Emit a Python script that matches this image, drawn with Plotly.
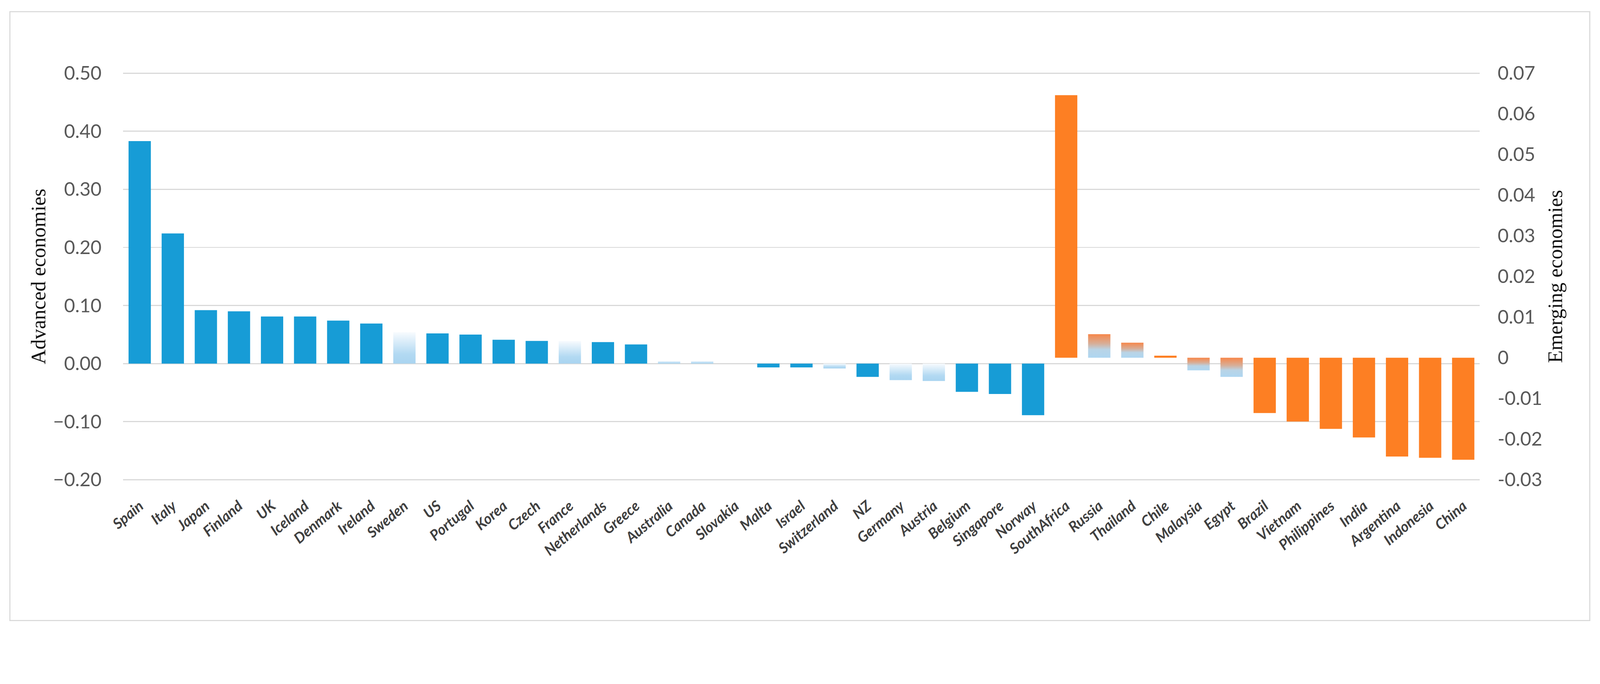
import plotly.graph_objects as go

# ---------------- data ----------------
adv_countries = ["Spain", "Italy", "Japan", "Finland", "UK", "Iceland", "Denmark", "Ireland",
                 "Sweden", "US", "Portugal", "Korea", "Czech", "France", "Netherlands", "Greece",
                 "Australia", "Canada", "Slovakia", "Malta", "Israel", "Switzerland", "NZ",
                 "Germany", "Austria", "Belgium", "Singapore", "Norway"]
adv_values = [0.383, 0.224, 0.092, 0.090, 0.081, 0.081, 0.074, 0.069,
              0.054, 0.052, 0.050, 0.041, 0.039, 0.039, 0.037, 0.033,
              0.0045, 0.0045, 0.0, -0.0067, -0.0067, -0.0084, -0.023,
              -0.0285, -0.030, -0.0487, -0.0524, -0.0889]
adv_faded = ["Sweden", "France", "Australia", "Canada", "Switzerland", "Germany", "Austria"]

em_countries = ["SouthAfrica", "Russia", "Thailand", "Chile", "Malaysia", "Egypt", "Brazil",
                "Vietnam", "Philippines", "India", "Argentina", "Indonesia", "China"]
em_values = [0.0646, 0.0058, 0.0037, 0.0005, -0.0031, -0.0047, -0.0136,
             -0.0157, -0.0175, -0.0196, -0.0243, -0.0246, -0.0251]
em_faded = ["Russia", "Thailand", "Malaysia", "Egypt"]

left_ticks = [-0.2, -0.1, 0.0, 0.1, 0.2, 0.3, 0.4, 0.5]
right_ticks = [-0.03, -0.02, -0.01, 0.0, 0.01, 0.02, 0.03, 0.04, 0.05, 0.06, 0.07]
right_ticktext = ["-0.03", "-0.02", "-0.01", "0", "0.01", "0.02", "0.03", "0.04", "0.05", "0.06", "0.07"]

# ---------------- style ----------------
FIG_W, FIG_H = 4378, 1750
BLUE = "#179CD6"
ORANGE = "#FD7F23"
BAR_W = 0.674
TICK_FONT = dict(family="Liberation Sans Narrow, Lato, sans-serif", size=52, color="#595959")
TITLE_FONT = dict(family="Liberation Serif, DejaVu Serif, serif", size=56, color="#111111")
blue_fade = [[0, "#A9D4F0"], [0.3, "#B2D9F2"], [1, "#F8FBFE"]]
orange_fade = [[0, "#AED6F1"], [0.35, "#B9D4E6"], [0.6, "#D7AE98"], [1, "#F7874A"]]
# small padding so the outermost gridlines are not dropped at the plot edges
PAD_L = 0.002
PAD_R = 0.0002857

categories = adv_countries + em_countries
idx = {c: i for i, c in enumerate(categories)}

fig = go.Figure()

# solid bars
adv_solid = [c for c in adv_countries if c not in adv_faded]
fig.add_trace(go.Bar(
    x=[idx[c] for c in adv_solid],
    y=[adv_values[adv_countries.index(c)] for c in adv_solid],
    width=BAR_W, marker=dict(color=BLUE, line=dict(width=0)),
    yaxis="y", showlegend=False, name="Advanced economies"))
em_solid = [c for c in em_countries if c not in em_faded]
fig.add_trace(go.Bar(
    x=[idx[c] for c in em_solid],
    y=[em_values[em_countries.index(c)] for c in em_solid],
    width=BAR_W, marker=dict(color=ORANGE, line=dict(width=0)),
    yaxis="y2", showlegend=False, name="Emerging economies"))

# faded (gradient) bars drawn as filled rectangles on the data axes
def gradient_bar(c, v, axis, scale):
    i = idx[c]
    fig.add_trace(go.Scatter(
        x=[i - BAR_W / 2, i + BAR_W / 2, i + BAR_W / 2, i - BAR_W / 2, i - BAR_W / 2],
        y=[0, 0, v, v, 0],
        mode="none", fill="toself",
        fillgradient=dict(type="vertical", colorscale=scale),
        yaxis=axis, showlegend=False, hoverinfo="skip"))

for c in adv_faded:
    gradient_bar(c, adv_values[adv_countries.index(c)], "y", blue_fade)
for c in em_faded:
    gradient_bar(c, em_values[em_countries.index(c)], "y2", orange_fade)

# outer frame
fig.add_shape(type="rect", xref="paper", yref="paper",
              x0=-0.0835, x1=1.0811, y0=-0.3417, y1=1.1476,
              line=dict(color="#D9D9D9", width=3), fillcolor="rgba(0,0,0,0)", layer="below")

fig.update_layout(
    width=FIG_W, height=FIG_H,
    margin=dict(l=337, r=329, t=197, b=435),
    paper_bgcolor="white", plot_bgcolor="white",
    barmode="overlay",
    xaxis=dict(
        range=[-0.5, len(categories) - 0.5],
        tickmode="array", tickvals=list(range(len(categories))), ticktext=categories,
        tickangle=-40, showgrid=False, zeroline=False, showline=False,
        ticks="", ticklabelstandoff=37,
        tickfont=dict(family="Lato, Carlito, sans-serif", size=40, color="#404040",
                      style="italic", weight=700),
    ),
    yaxis=dict(
        range=[-0.2 - PAD_L, 0.5 + PAD_L], tickmode="array", tickvals=left_ticks, tickformat=".2f",
        showgrid=True, gridcolor="#D9D9D9", gridwidth=3,
        zeroline=True, zerolinecolor="#D9D9D9", zerolinewidth=3,
        showline=False, ticks="", ticklabelstandoff=58,
        tickfont=TICK_FONT,
        title=dict(text="Advanced economies", font=TITLE_FONT, standoff=2),
    ),
    yaxis2=dict(
        range=[-0.03 - PAD_R, 0.07 + PAD_R], overlaying="y", side="right",
        tickmode="array", tickvals=right_ticks, ticktext=right_ticktext,
        showgrid=False, zeroline=False, showline=False, ticks="", ticklabelstandoff=48,
        tickfont=TICK_FONT,
        title=dict(text="Emerging economies", font=TITLE_FONT, standoff=16),
    ),
)

# fit the fixed-size figure into whatever viewport the page is shown in
fit_js = """
var gd = document.getElementById('{plot_id}');
document.body.style.margin = '0';
document.body.style.overflow = 'hidden';
var s = Math.min(window.innerWidth / %d, window.innerHeight / %d);
gd.style.transformOrigin = '0 0';
gd.style.transform = 'scale(' + s + ')';
""" % (FIG_W, FIG_H)

fig.write_html("out.html", post_script=fit_js, config={"displayModeBar": False})
